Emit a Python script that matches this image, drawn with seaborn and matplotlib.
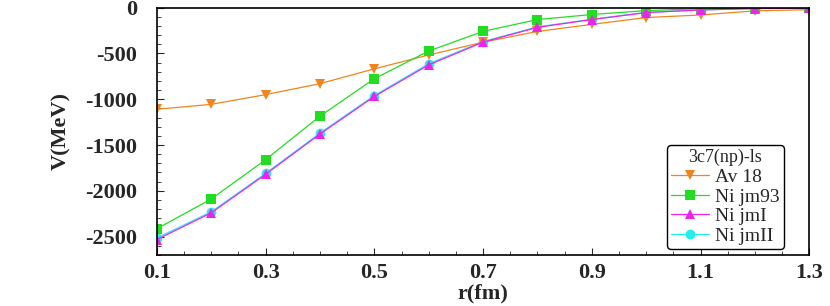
import numpy as np
import pandas as pd
import matplotlib
matplotlib.use("Agg")
import matplotlib.pyplot as plt
import seaborn as sns
from matplotlib.ticker import MultipleLocator

r = [0.1, 0.2, 0.3, 0.4, 0.5, 0.6, 0.7, 0.8, 0.9, 1.0, 1.1, 1.2, 1.3]
av18 = [-1110, -1056, -950, -830, -668, -517, -377, -260, -183, -108, -80, -35, -22]
nijm93 = [-2414, -2090, -1660, -1185, -776, -474, -259, -130, -75, -32, -12, -5, -3]
nijm1 = [-2532, -2241, -1820, -1380, -970, -625, -377, -215, -130, -54, -25, -10, -5]
nijm2 = [-2515, -2230, -1810, -1370, -960, -612, -370, -210, -127, -52, -24, -10, -5]

series = ["Av18", "Nijm93", "NijmI", "NijmII"]
labels = ["Av 18", "Ni jm93", "Ni jmI", "Ni jmII"]
colors = ["#F0851E", "#22DD22", "#EE22EE", "#22EEEE"]
markers = ["v", "s", "^", "o"]
xtick_vals = [0.1, 0.3, 0.5, 0.7, 0.9, 1.1, 1.3]

sns.set_style("ticks")
plt.rcParams["font.family"] = ["Liberation Serif", "DejaVu Serif"]
plt.rcParams["axes.unicode_minus"] = False

df = pd.DataFrame({"r": r * 4,
                   "V": av18 + nijm93 + nijm1 + nijm2,
                   "model": np.repeat(series, len(r))})

fig = plt.figure(figsize=(8.3, 3.06), dpi=100)
ax = fig.add_axes([0.189, 0.167, 0.786, 0.808])

# NijmII goes first so NijmI sits on top of it, as in the reference
for i in [3, 0, 1, 2]:
    sub = df[df["model"] == series[i]]
    sns.lineplot(data=sub, x="r", y="V", ax=ax, color=colors[i], marker=markers[i],
                 markersize=7, markeredgewidth=0, linewidth=0.9, label=labels[i])

h, l = ax.get_legend_handles_labels()
idx = [l.index(lab) for lab in labels]
leg = ax.legend([h[k] for k in idx], labels, title="3c7(np)-ls", loc="lower right",
                bbox_to_anchor=(0.967, 0.01), frameon=True, fancybox=True,
                edgecolor="black", fontsize=14, title_fontsize=13,
                handlelength=2.0, handletextpad=0.3, labelspacing=0.1,
                borderpad=0.2, borderaxespad=0.2)
leg.get_frame().set_linewidth(1.0)
leg.get_frame().set_alpha(1)

ax.set_xlim(0.1, 1.3)
ax.set_ylim(-2700, 0)
ax.xaxis.set_minor_locator(MultipleLocator(0.05))
ax.yaxis.set_major_locator(MultipleLocator(500))
ax.yaxis.set_minor_locator(MultipleLocator(100))
ax.tick_params(which="both", direction="in", top=False, right=False)
ax.tick_params(which="major", length=5)
ax.tick_params(which="minor", length=3)
ax.tick_params(axis="y", pad=14)
ax.tick_params(axis="x", pad=6)
ax.set_xticks(xtick_vals)
ax.set_xticklabels([f"{v:.1f}" for v in xtick_vals], fontweight="bold", fontsize=16)
for t in ax.get_yticklabels():
    t.set_fontweight("bold")
    t.set_fontsize(16)

ax.set_xlabel("r(fm)", fontsize=16, fontweight="bold", labelpad=0)
ax.set_ylabel("V(MeV)", fontsize=16, fontweight="bold", labelpad=10)
for s in ax.spines.values():
    s.set_linewidth(1.2)
    s.set_color("black")

fig.savefig("out.png", dpi=100)
